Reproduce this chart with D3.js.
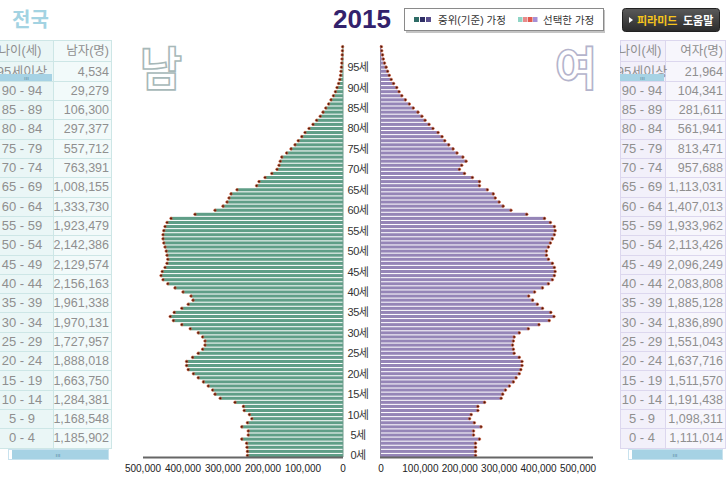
<!DOCTYPE html>
<html><head><meta charset="utf-8">
<script src="https://cdn.jsdelivr.net/npm/d3@7"></script>
<style>
body{margin:0;background:#fff;}
svg{display:block;font-family:"Liberation Sans",Arial,"Noto Sans CJK KR",sans-serif;}
</style>
</head><body>
<svg id="c" width="726" height="479"></svg>
<script>
// ---------- data ----------
const ages = d3.range(0, 101);
// single-year population (thousands), age 0..100
const maleK = [239,239,240,241,253,237,237,253,239,228,
 234,247,249,270,307,320,326,337,349,362,
 374,387,391,391,376,362,351,345,345,351,
 362,382,403,424,432,422,403,387,375,380,
 400,420,438,450,455,452,445,440,438,440,
 442,445,448,450,450,448,445,440,430,370,
 320,300,290,285,280,265,216,210,195,178,
 165,160,157,153,141,130,120,112,103,95,
 85,75,66,57,50,43,36,30,24,19,
 15,11,8,6,5,4,3,2.5,2,1.5,
 1];
const femaleK = [240,240,240,240,250,235,235,254,237,225,
 229,246,246,263,305,309,316,326,336,343,
 351,355,358,358,351,338,336,334,336,338,
 351,374,401,427,439,431,410,397,385,375,
 390,410,425,435,440,442,440,435,425,420,
 420,425,430,435,440,442,440,430,415,370,
 330,310,300,290,285,270,250,250,232,212,
 199,205,216,208,193,183,172,162,155,145,
 132,122,112,104,94,82,72,62,53,46,
 40,32,26,21,17,13,9,6,4,2,
 1];
const ageGroups = ["95세이상","90 - 94","85 - 89","80 - 84","75 - 79","70 - 74","65 - 69","60 - 64","55 - 59","50 - 54","45 - 49","40 - 44","35 - 39","30 - 34","25 - 29","20 - 24","15 - 19","10 - 14","5 - 9","0 - 4"];
const maleTotals = [4534,29279,106300,297377,557712,763391,1008155,1333730,1923479,2142386,2129574,2156163,1961338,1970131,1727957,1888018,1663750,1284381,1168548,1185902];
const femaleTotals = [21964,104341,281611,561941,813471,957688,1113031,1407013,1933962,2113426,2096249,2083808,1885128,1836890,1551043,1637716,1511570,1191438,1098311,1111014];
const xTicks = [0,100000,200000,300000,400000,500000];
const ageTicks = d3.range(0, 100, 5);
const title = "2015";
const region = "전국";

// ---------- setup ----------
const svg = d3.select("#c");
const fmt = d3.format(",");

const yBand = d3.scaleBand().domain(d3.range(100, -1, -1)).range([45.2, 457]).paddingInner(0.25);
const xL = d3.scaleLinear().domain([0, 500000]).range([343, 143]);
const xR = d3.scaleLinear().domain([0, 500000]).range([381, 578]);

// ---------- header ----------
svg.append("text").attr("x", 12).attr("y", 27).attr("font-size", 20).attr("font-weight", "bold")
  .attr("fill", "#a3d3e2").text(region);
svg.append("text").attr("x", 362).attr("y", 28).attr("text-anchor", "middle").attr("font-size", 26)
  .attr("font-weight", "bold").attr("fill", "#33226c").text(title);

// legend
const lg = svg.append("g");
lg.append("rect").attr("x", 406).attr("y", 10).attr("width", 199).attr("height", 23).attr("fill", "#c4c4c4");
lg.append("rect").attr("x", 404.5).attr("y", 8.5).attr("width", 199).attr("height", 22).attr("fill", "#fff").attr("stroke", "#8a8a8a");
const c1 = ["#2e6c66", "#2f2f66", "#5a4f8e"];
c1.forEach((c, i) => lg.append("rect").attr("x", 414 + i * 6).attr("y", 17).attr("width", 5).attr("height", 5).attr("fill", c));
lg.append("text").attr("x", 438).attr("y", 23.5).attr("font-size", 10.5).attr("fill", "#333").text("중위(기준) 가정");
const c2 = ["#8fd5c6", "#e88a8a", "#e25a4e", "#a590d6"];
c2.forEach((c, i) => lg.append("rect").attr("x", 518 + i * 5).attr("y", 17).attr("width", 4.5).attr("height", 5).attr("fill", c));
lg.append("text").attr("x", 543).attr("y", 23.5).attr("font-size", 10.5).attr("fill", "#333").text("선택한 가정");

// help button
const defs = svg.append("defs");
const gr = defs.append("linearGradient").attr("id", "btn").attr("x1", 0).attr("y1", 0).attr("x2", 0).attr("y2", 1);
gr.append("stop").attr("offset", "0").attr("stop-color", "#5a5a5a");
gr.append("stop").attr("offset", "1").attr("stop-color", "#2b2b2b");
svg.append("rect").attr("x", 622.5).attr("y", 8.5).attr("width", 97).attr("height", 23).attr("rx", 3)
  .attr("fill", "url(#btn)").attr("stroke", "#222");
svg.append("path").attr("d", "M629,17 L633,20 L629,23 Z").attr("fill", "#fff");
svg.append("text").attr("x", 637).attr("y", 24.5).attr("font-size", 11).attr("font-weight", "bold").attr("fill", "#f6c51d").text("피라미드");
svg.append("text").attr("x", 683).attr("y", 24.5).attr("font-size", 11).attr("font-weight", "bold").attr("fill", "#fff").text("도움말");

// ---------- tables ----------
const rowY = d3.scaleBand().domain(ageGroups).range([61.4, 447.6]);
function drawTable(x0, xDiv, x1, totals, head, bg1, bg2, line, clipId) {
  defs.append("clipPath").attr("id", clipId).append("rect").attr("x", x0).attr("y", 38).attr("width", x1 - x0).attr("height", 425);
  const g = svg.append("g").attr("clip-path", `url(#${clipId})`);
  g.append("rect").attr("x", x0).attr("y", 40).attr("width", xDiv - x0).attr("height", 408).attr("fill", bg1);
  g.append("rect").attr("x", xDiv).attr("y", 40).attr("width", x1 - xDiv).attr("height", 408).attr("fill", bg2);
  const ys = [40, 61].concat(ageGroups.map(a => rowY(a) + rowY.bandwidth()));
  ys.forEach(y => g.append("line").attr("x1", x0).attr("x2", x1).attr("y1", Math.round(y) + 0.5).attr("y2", Math.round(y) + 0.5).attr("stroke", line));
  [xDiv, x1 - 1].forEach(x => g.append("line").attr("x1", x + 0.5).attr("x2", x + 0.5).attr("y1", 40).attr("y2", 448).attr("stroke", line));
  if (x0 > 0) g.append("line").attr("x1", x0 + 0.5).attr("x2", x0 + 0.5).attr("y1", 40).attr("y2", 448).attr("stroke", line);
  const cx = x0 + 22;
  g.append("text").attr("x", cx - 2).attr("y", 55).attr("text-anchor", "middle").attr("font-size", 12.5).attr("fill", "#8f8f8f").text("나이(세)");
  g.append("text").attr("x", x1 - 3).attr("y", 55).attr("text-anchor", "end").attr("font-size", 12.5).attr("fill", "#8f8f8f").text(head);
  g.selectAll("text.ag").data(ageGroups).join("text").attr("class", "ag")
    .attr("x", cx).attr("y", d => rowY(d) + rowY.bandwidth() / 2 + 4.5).attr("text-anchor", "middle")
    .attr("font-size", 13).attr("fill", "#8f8f8f").text(d => d);
  g.selectAll("text.tv").data(totals).join("text").attr("class", "tv")
    .attr("x", x1 - 3).attr("y", (d, i) => rowY(ageGroups[i]) + rowY.bandwidth() / 2 + 4.5).attr("text-anchor", "end")
    .attr("font-size", 12.5).attr("fill", "#8f8f8f").text(d => fmt(d));
  // overlay thumb on first row
  g.append("rect").attr("x", x0).attr("y", 74).attr("width", xDiv - x0 - 1).attr("height", 7).attr("fill", "#a6d2e4");
  g.append("text").attr("x", x0 + (xDiv - x0) / 2).attr("y", 80).attr("text-anchor", "middle").attr("font-size", 6).attr("fill", "#5a8aa0").text("ııı");
  // bottom scrollbar
  svg.append("rect").attr("x", x0 + 8.5).attr("y", 449.5).attr("width", x1 - x0 - 12).attr("height", 10).attr("fill", "#a6d2e4").attr("stroke", "#c8e2ee");
  svg.append("rect").attr("x", x0 + 9).attr("y", 450).attr("width", 3).attr("height", 9).attr("fill", "#fff");
  svg.append("text").attr("x", x0 + 8 + (x1 - x0 - 12) / 2).attr("y", 457).attr("text-anchor", "middle").attr("font-size", 6).attr("fill", "#5a8aa0").text("ııı");
}
drawTable(0, 53, 112, maleTotals, "남자(명)", "#eaf6f6", "#f2fafa", "#cde6e6", "clipL");
drawTable(620, 665, 726, femaleTotals, "여자(명)", "#f2f0fa", "#f7f6fc", "#dcd7ee", "clipR");

// ---------- big letters ----------
svg.append("text").attr("x", 161).attr("y", 85).attr("text-anchor", "middle").attr("font-size", 46)
  .attr("font-family", "Noto Sans CJK KR").attr("font-weight", "bold")
  .attr("fill", "#fff").attr("stroke", "#a7b8b8").attr("stroke-width", 1.6).text("남");
svg.append("text").attr("x", 576).attr("y", 85).attr("text-anchor", "middle").attr("font-size", 46)
  .attr("font-family", "Noto Sans CJK KR").attr("font-weight", "bold")
  .attr("fill", "#fff").attr("stroke", "#b4b4cc").attr("stroke-width", 1.6).text("여");

// ---------- bars ----------
const bw = yBand.bandwidth();
svg.append("g").selectAll("rect").data(ages).join("rect")
  .attr("x", d => xL(maleK[d] * 1000)).attr("y", d => yBand(d))
  .attr("width", d => xL(0) - xL(maleK[d] * 1000)).attr("height", bw).attr("fill", "#5f9e87");
svg.append("g").selectAll("rect").data(ages).join("rect")
  .attr("x", xR(0)).attr("y", d => yBand(d))
  .attr("width", d => xR(femaleK[d] * 1000) - xR(0)).attr("height", bw).attr("fill", "#9585b7");
svg.append("line").attr("x1", 380.5).attr("x2", 380.5).attr("y1", 45).attr("y2", 457).attr("stroke", "#8f86a8");
svg.append("line").attr("x1", 343).attr("x2", 343).attr("y1", 45).attr("y2", 457).attr("stroke", "#6f9c8c");

// end markers (선택한 가정)
svg.append("g").selectAll("circle").data(ages).join("circle")
  .attr("cx", d => xL(maleK[d] * 1000)).attr("cy", d => yBand(d) + bw / 2).attr("r", 1.3)
  .attr("fill", "#4a160a").attr("stroke", "#e0673f").attr("stroke-width", 0.6);
svg.append("g").selectAll("circle").data(ages).join("circle")
  .attr("cx", d => xR(femaleK[d] * 1000)).attr("cy", d => yBand(d) + bw / 2).attr("r", 1.3)
  .attr("fill", "#4a160a").attr("stroke", "#e0673f").attr("stroke-width", 0.6);

// ---------- age labels ----------
svg.append("g").selectAll("text").data(ageTicks).join("text")
  .attr("x", 358).attr("y", d => yBand(d) + bw / 2 + 4).attr("text-anchor", "middle")
  .attr("font-size", 11).attr("fill", "#333").attr("letter-spacing", -0.5).text(d => d + "세");

// ---------- x axes ----------
svg.append("line").attr("x1", 143).attr("x2", 343).attr("y1", 457.5).attr("y2", 457.5).attr("stroke", "#666").attr("stroke-width", 2);
svg.append("line").attr("x1", 380).attr("x2", 593).attr("y1", 457.5).attr("y2", 457.5).attr("stroke", "#666").attr("stroke-width", 2);
svg.append("g").selectAll("text").data(xTicks).join("text")
  .attr("x", d => xL(d)).attr("y", 472).attr("text-anchor", "middle").attr("font-size", 10).attr("fill", "#222").text(d => fmt(d));
svg.append("g").selectAll("text").data(xTicks).join("text")
  .attr("x", d => xR(d)).attr("y", 472).attr("text-anchor", "middle").attr("font-size", 10).attr("fill", "#222").text(d => fmt(d));
</script>
</body></html>
